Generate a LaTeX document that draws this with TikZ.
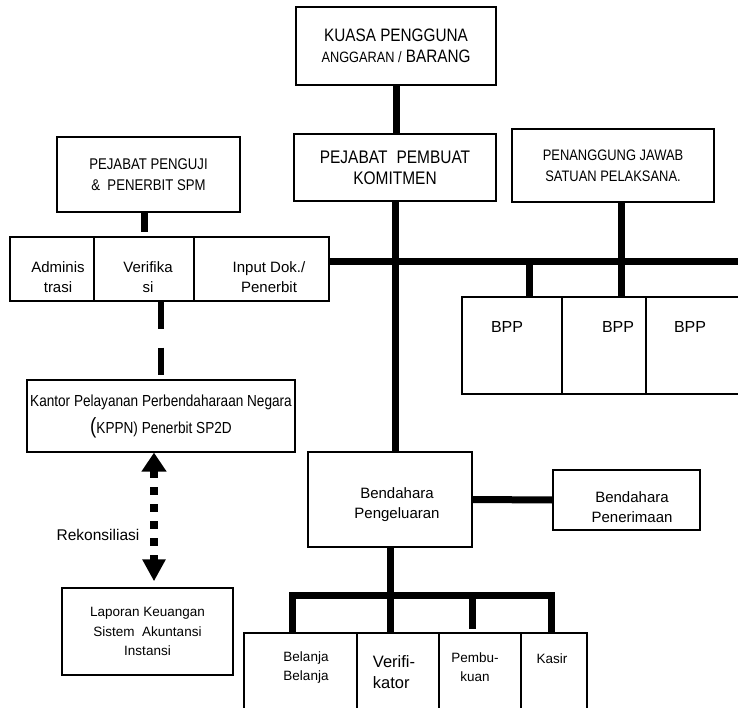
\documentclass[tikz,border=0pt]{standalone}
\usepackage{fontspec}
\setmainfont{Liberation Sans}
\newfontfamily\narrowsf[FakeStretch=0.85]{Liberation Sans}
\usepackage{tikz}
\usetikzlibrary{arrows.meta, positioning, calc}

\begin{document}
\begin{tikzpicture}[
  x=1pt, y=-1pt,
  unit/.style={draw, line width=1.3pt, align=center, inner sep=0pt},
  word/.style={align=center, inner sep=0pt},
  big/.style={font=\fontsize{15}{20}\selectfont},
  mid/.style={font=\fontsize{13.5}{19}\selectfont},
  caps/.style={font=\narrowsf\fontsize{#1}{21}\selectfont},
  trunk/.style={line width=7pt},
  dashline/.style={line width=6pt, dash pattern=on 27pt off 19pt},
  rekon/.style={line width=8pt, dash pattern=on 8pt off 9pt,
    {Triangle[width=24pt, length=19pt]}-{Triangle[width=22pt, length=22pt]}}
]
  \clip (0,0) rectangle (738,708);

  % top of the chart
  \node[unit, caps=18, minimum width=200, minimum height=78] (kpa) at (396,46)
    {KUASA PENGGUNA\\{\fontsize{15}{19}\selectfont ANGGARAN /} BARANG};
  \node[unit, caps=18.2, minimum width=202, minimum height=67] (ppk) at (395,167.5)
    {PEJABAT\enspace PEMBUAT\\KOMITMEN};
  \node[unit, caps=15.2, minimum width=202, minimum height=73] (pj) at (613,165.5)
    {PENANGGUNG JAWAB\\SATUAN PELAKSANA.};

  % SPM side
  \node[unit, caps=15.5, minimum width=183, minimum height=75] (ppspm) at (148.5,174.5)
    {PEJABAT PENGUJI\\\& \ PENERBIT SPM};
  \node[unit, minimum width=84, minimum height=64] (adm) at (52,269) {};
  \node[unit, minimum width=100, minimum height=64] (verif) at (144,269) {};
  \node[unit, minimum width=135, minimum height=64] (input) at (261.5,269) {};
  \node[word, big] (admt) at (58,277) {Adminis\\trasi};
  \node[word, big] (veriftt) at (148,277) {Verifika\\si};
  \node[word, big] (inputt) at (269,277) {Input Dok./\\Penerbit};

  % KPPN and report
  \node[unit, font=\narrowsf\fontsize{16}{27}\selectfont, minimum width=268, minimum height=72]
    (kppn) at (161,416)
    {Kantor Pelayanan Perbendaharaan Negara\\{\fontsize{22}{22}\selectfont(}KPPN) Penerbit SP2D};
  \node[unit, font=\fontsize{13.5}{19.5}\selectfont, minimum width=171, minimum height=87]
    (lap) at (147.5,631.5)
    {Laporan Keuangan\\Sistem\ \ Akuntansi\\Instansi};
  \node[font=\fontsize{15.5}{19}\selectfont] (rek) at (98,535) {Rekonsiliasi};

  % BPP row
  \node[unit, minimum width=100, minimum height=97] (bppA) at (512,345.5) {};
  \node[unit, minimum width=84, minimum height=97] (bppB) at (604,345.5) {};
  \node[unit, minimum width=114, minimum height=97] (bppC) at (703,345.5) {};
  \node[font=\fontsize{16}{19}\selectfont] (bppAt) at (507,327) {BPP};
  \node[font=\fontsize{16}{19}\selectfont] (bppBt) at (618,327) {BPP};
  \node[font=\fontsize{16}{19}\selectfont] (bppCt) at (690,327) {BPP};

  % treasurers
  \node[unit, minimum width=164, minimum height=95] (bp) at (390,499.5) {};
  \node[unit, minimum width=147, minimum height=60] (pen) at (626.5,500) {};
  \node[word, big] (bpt) at (397,505) {Bendahara\\Pengeluaran};
  \node[word, big] (pent) at (632,507) {Bendahara\\Penerimaan};

  % bottom row
  \node[unit, minimum width=113, minimum height=87] (blj) at (300.5,676.5) {};
  \node[unit, minimum width=82, minimum height=87] (vk) at (398,676.5) {};
  \node[unit, minimum width=82, minimum height=87] (pbk) at (480,676.5) {};
  \node[unit, minimum width=66, minimum height=87] (ksr) at (554,676.5) {};
  \node[word, mid] (bljt) at (306,668) {Belanja\\Belanja};
  \node[word, font=\fontsize{16.5}{21}\selectfont, align=left] (vkt) at (394,672) {Verifi-\\kator};
  \node[word, mid] (pbkt) at (475,667) {Pembu-\\kuan};
  \node[word, mid] (ksrt) at (552,659) {Kasir};

  % lines
  \coordinate (busEnd) at (745,262);
  \coordinate (fork) at (390,595);
  \draw[trunk] (kpa.south) -- (kpa.south |- ppk.north);
  \draw[trunk] (ppk.south) -- (ppk.south |- bp.north);
  \draw[trunk] (input.east |- busEnd) -- (busEnd);
  \draw[trunk] ([xshift=8pt]pj.south) -- ([xshift=8pt]pj.south |- bppB.north);
  \draw[trunk] ([xshift=17pt]bppA.north |- busEnd) -- ([xshift=17pt]bppA.north);
  \draw[trunk] (verif.north |- ppspm.south) -- ([yshift=4pt]verif.north);
  \draw[dashline] (kppn.north |- verif.south) -- (kppn.north);
  \draw[rekon, shorten >=6pt] ([xshift=-7pt]kppn.south) -- ([xshift=-7pt]kppn.south |- lap.north);
  \draw[trunk] (bp.east) -- (pen.west);
  \draw[trunk] (bp.south) -- (fork);
  \draw[trunk] ([xshift=-8.5pt]blj.north) |- ([xshift=-3pt]ksr.north |- fork)
    -- ([xshift=-3pt]ksr.north);
  \draw[trunk] (fork) -- ([xshift=-8pt]vk.north);
  \draw[trunk] ([xshift=-8pt]pbk.north |- fork) -- ([xshift=-8pt, yshift=3pt]pbk.north);
\end{tikzpicture}
\end{document}
